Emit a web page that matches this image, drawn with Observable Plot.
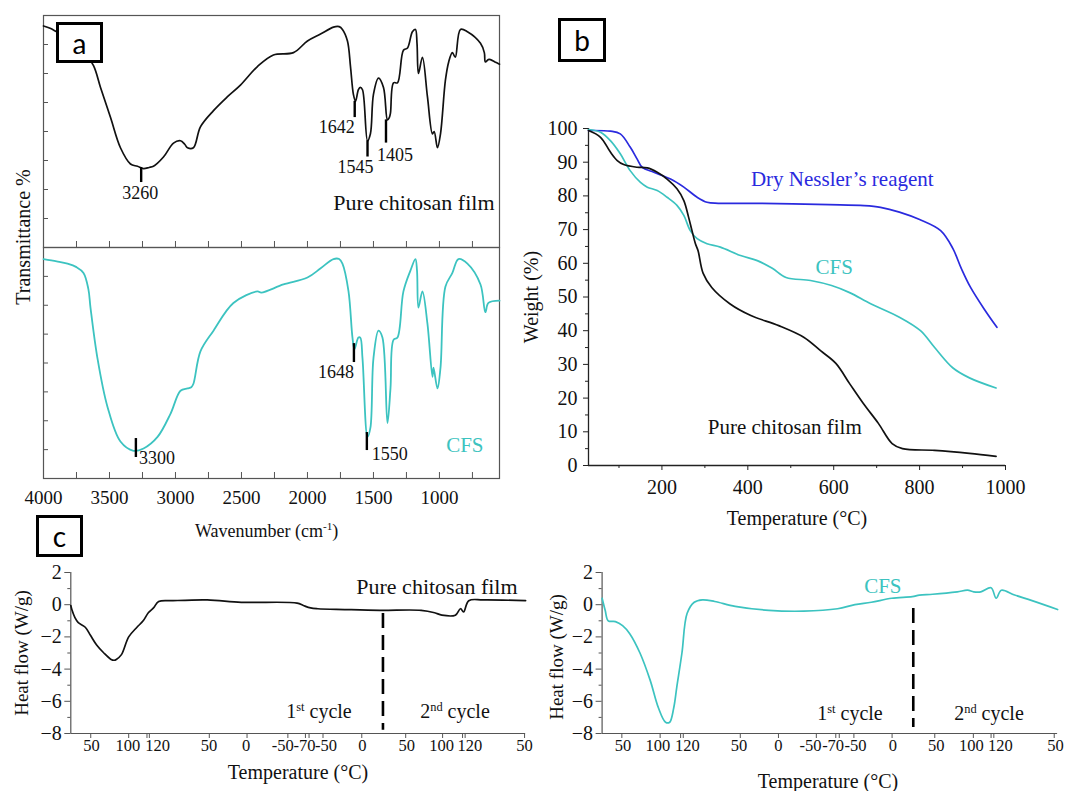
<!DOCTYPE html>
<html>
<head>
<meta charset="utf-8">
<script src="https://cdn.jsdelivr.net/npm/d3@7"></script>
<script src="https://cdn.jsdelivr.net/npm/@observablehq/plot@0.6"></script>
<style>
  body { margin: 0; background: #fff; }
  #fig { position: relative; width: 1065px; height: 791px; overflow: hidden; background: #fff;
         font-family: "Liberation Serif", "Times New Roman", serif; }
  #fig > svg { position: absolute; left: 0; top: 0; }
  .lbl { position: absolute; white-space: nowrap; line-height: 1; color: #111;
         font-family: "Liberation Serif", "Times New Roman", serif; }
  .lbl sup { font-size: 62%; position: relative; top: -0.6em; vertical-align: baseline; line-height: 0; }
  .box { position: absolute; box-sizing: border-box; border: 3px solid #000; background: #fff;
         display: flex; align-items: center; justify-content: center;
         font-family: Lato, "Liberation Sans", sans-serif; font-size: 28px; line-height: 1; color: #000; }
</style>
</head>
<body>
<div id="fig"></div>
<script>
// ---------------- colours / fonts ----------------
const INK = "#111", TEAL = "#3cc3c0", BLUE = "#2a2ade", AXIS = "#555";
const SERIF = "'Liberation Serif', 'Times New Roman', serif";

// ---------------- panel a : FTIR ----------------
const ftirWnDomain = [4000, 545];
const ftirWnTicks = [4000, 3500, 3000, 2500, 2000, 1500, 1000];
const ftirWnMinorTicks = [4000, 3750, 3500, 3250, 3000, 2750, 2500, 2250, 2000, 1750, 1500, 1250, 1000, 750];
const ftirTransTicks = [12.5, 25, 37.5, 50, 62.5, 75, 87.5, 100];
// [wavenumber (cm-1), transmittance (relative)]
const chitosanFTIR = [[4000,95.5],[3950,94.5],[3900,93],[3800,90],[3700,85],[3621,78.4],[3568,69],[3492,56],[3417,43],[3341,36],[3288,35],[3242,34],[3200,34.5],[3167,35],[3091,39],[3015,45],[2962,46],[2930,44.5],[2909,43],[2864,43],[2811,52],[2712,59],[2606,65],[2508,70],[2379,78],[2258,83],[2106,84],[2000,89],[1901,92],[1803,95],[1760,95.2],[1735,94],[1697,89],[1674,78],[1652,66],[1636,63],[1614,68],[1600,69],[1583,68],[1545,46],[1523,49],[1500,66],[1462,73],[1424,69],[1394,55],[1380,56],[1371,58],[1348,71],[1318,71],[1273,85],[1242,86],[1205,93],[1182,94],[1170,88],[1159,75],[1129,82],[1091,65],[1053,49],[1040,50],[1015,43],[992,49],[955,72],[930,80],[902,84],[880,82],[841,94],[788,93],[689,88],[660,84],[652,80],[630,81],[614,81],[580,80],[545,79]];
const cfsFTIR = [[4000,95],[3900,94],[3818,93],[3750,91.5],[3697,89],[3660,82],[3644,74],[3591,52],[3515,31],[3417,16],[3318,12],[3242,13],[3136,18],[3038,28],[2962,38],[2909,39],[2880,39.5],[2864,41],[2811,55],[2712,64],[2561,76],[2379,81],[2350,80.5],[2182,84],[2000,87],[1900,91],[1803,95],[1760,95],[1735,93],[1689,81],[1659,61],[1644,56],[1614,61],[1600,61],[1583,52],[1545,18],[1523,22],[1500,52],[1462,64],[1432,61],[1394,24],[1371,39],[1348,60],[1318,61],[1273,81],[1220,90],[1182,95],[1170,90],[1159,74],[1129,81],[1091,67],[1053,44],[1045,48],[1015,39],[992,48],[955,83],[902,89],[856,95],[788,93],[689,84],[652,72],[629,76],[545,77]];
const chitosanPeaks = [
  {wn: 3260, from: 34.5, to: 28, label: "3260"},
  {wn: 1642, from: 63, to: 56, label: "1642"},
  {wn: 1545, from: 46, to: 39, label: "1545"},
  {wn: 1405, from: 55, to: 45, label: "1405"}
];
const cfsPeaks = [
  {wn: 3300, from: 17.3, to: 9.1, label: "3300"},
  {wn: 1648, from: 58.4, to: 50.2, label: "1648"},
  {wn: 1550, from: 19.9, to: 12.1, label: "1550"}
];

// ---------------- panel b : TGA ----------------
const tgaTempDomain = [29, 1000];
const tgaTempTicks = [200, 400, 600, 800, 1000];
const tgaTempMinorTicks = [100, 300, 500, 700, 900];
const weightTicks = [0, 10, 20, 30, 40, 50, 60, 70, 80, 90, 100];
const weightMinorTicks = [5, 15, 25, 35, 45, 55, 65, 75, 85, 95];
// [temperature (°C), weight (%)]
const tgaNessler = [[29,99.4],[80,99.2],[103,98.4],[126,94.5],[142,91],[154,88.5],[181,87],[220,85],[251,82.6],[282,79.6],[305,78.1],[331,77.8],[424,77.8],[589,77.4],[671,77.1],[709,76.6],[753,75.2],[800,73],[849,69.7],[877,64.5],[897,58.5],[918,53],[951,46.3],[980,41]];
const tgaCFS = [[29,99.7],[57,98.9],[80,96.4],[103,92.5],[126,87.5],[150,84],[166,82.6],[189,81.6],[212,79.6],[235,77.2],[251,74.2],[266,69.7],[282,67.3],[305,65.8],[336,64.8],[383,62.3],[422,60.8],[457,58.5],[489,55.8],[546,54.9],[595,53.4],[637,51.3],[686,48],[753,44],[802,40],[835,35],[877,29],[916,26],[978,23]];
const tgaChitosan = [[29,99.4],[57,97.4],[80,93],[96,90.5],[111,89.3],[142,88.5],[166,88.3],[189,87],[212,85],[235,82.1],[251,78.6],[262,73.7],[270,69.7],[278,65.8],[284,63.8],[296,57],[316,52.8],[358,48],[407,44.5],[472,41.5],[531,38],[570,34],[605,30.3],[637,24.3],[669,18.4],[704,12.5],[736,6.5],[760,5],[835,4.5],[916,3.6],[978,2.7]];
const tgaLabels = [
  {series: "Dry Nessler’s reagent", T: 620, w: 84.9},
  {series: "CFS", T: 601, w: 58.8},
  {series: "Pure chitosan film", T: 486, w: 11.3}
];
const tgaColors = {"Dry Nessler’s reagent": BLUE, "CFS": TEAL, "Pure chitosan film": INK};

// ---------------- panel c : DSC ----------------
const dscTickLabels = ["50","100","120","50","0","-50","-70","-50","0","50","100","120","50"];
const dscLabelPosLeft  = [20, 55.3, 84, 133.6, 169.5, 205, 226, 247, 282, 325, 358.7, 386, 439];
const dscTickPosLeft   = [19.3, 56, 73.7, 76, 134, 170.5, 210, 227, 230.5, 244, 281.5, 324, 359.7, 379, 381.5, 439];
const dscLabelPosRight = [20.5, 54.5, 83.3, 133.8, 172.2, 203.7, 225.7, 247.6, 284, 326.4, 360.7, 389, 443];
const dscTickPosRight  = [19.3, 56.7, 76.7, 79.3, 135, 172.3, 209.3, 228.3, 231.7, 246, 283.3, 325, 362.7, 380, 382.7, 441.7];
const heatTicks = [2, 0, -2, -4, -6, -8];
const heatMinorTicks = [1, -1, -3, -5, -7];
// [run position, heat flow (W/g)]
const dscChitosan = [[0,-0.05],[1,-0.3],[4,-0.8],[7,-1.1],[14,-1.4],[19,-1.9],[25,-2.5],[32,-3.0],[39,-3.4],[42,-3.45],[44,-3.4],[49,-3.1],[56,-2.0],[64,-1.4],[70,-1.0],[75,-0.5],[80,-0.2],[85,0.2],[99,0.25],[132,0.3],[165,0.15],[219,0.1],[225,-0.05],[232,-0.2],[239,-0.25],[265,-0.3],[299,-0.35],[339,-0.35],[352,-0.5],[359,-0.65],[372,-0.65],[377,-0.25],[380,-0.45],[385,0.25],[399,0.3],[440,0.25]];
const dscCFS = [[0,0.4],[3,-0.35],[6,-1.0],[13,-1.05],[20,-1.3],[27,-1.8],[37,-3.0],[47,-4.7],[55,-6.4],[62,-7.3],[66,-7.3],[70,-6.4],[73,-5.1],[78,-3.0],[83,-0.55],[90,0.15],[98,0.3],[110,0.2],[130,-0.1],[163,-0.35],[197,-0.4],[230,-0.25],[247,0.0],[263,0.15],[283,0.4],[303,0.5],[310,0.6],[323,0.65],[347,0.8],[357,0.9],[363,0.8],[370,0.8],[380,1.05],[385,0.4],[390,0.9],[403,0.6],[420,0.25],[445,-0.3]];
const cycleSplitLeft = [{t: 302, top: -0.55, bottom: -7.8}];
const cycleSplitRight = [{t: 304, top: -0.24, bottom: -7.63}];

// ---------------- helpers ----------------
const fig = document.getElementById("fig");
const base = {width: 1065, height: 791,
  style: {background: "transparent", overflow: "visible", fontFamily: SERIF}};
function add(opts) { fig.appendChild(Plot.plot({...base, ...opts})); }
const blank = () => "";
const plain = d => String(d);
const minusFmt = d => d < 0 ? "\u2212" + Math.abs(d) : String(d);

function html(content, {cx, left, baseline, size, color = "#111"}) {
  const d = document.createElement("div");
  d.className = "lbl";
  d.innerHTML = content;
  d.style.fontSize = size + "px";
  d.style.color = color;
  d.style.top = (baseline - 0.8375 * size) + "px";
  if (cx !== undefined) { d.style.left = cx + "px"; d.style.transform = "translateX(-50%)"; }
  else d.style.left = left + "px";
  fig.appendChild(d);
}
function vlabel(content, {cx, cy, size}) {
  const d = document.createElement("div");
  d.className = "lbl";
  d.innerHTML = content;
  d.style.fontSize = size + "px";
  d.style.left = cx + "px"; d.style.top = cy + "px";
  d.style.transform = "translate(-50%,-50%) rotate(-90deg)";
  fig.appendChild(d);
}
function box(letter, l, t, w, h) {
  const d = document.createElement("div");
  d.className = "box"; d.textContent = letter;
  Object.assign(d.style, {left: l + "px", top: t + "px", width: w + "px", height: h + "px"});
  fig.appendChild(d);
}

// ---------------- panel a ----------------
const peakPlace = {
  "3260": {textAnchor: "middle", lineAnchor: "top", dx: -1, dy: 4},
  "1642": {textAnchor: "end", lineAnchor: "top", dx: 0, dy: 3},
  "1545": {textAnchor: "middle", lineAnchor: "top", dx: -12, dy: 3},
  "1405": {textAnchor: "middle", lineAnchor: "top", dx: 9, dy: 5},
  "3300": {textAnchor: "start", lineAnchor: "middle", dx: 3, dy: 1},
  "1648": {textAnchor: "end", lineAnchor: "top", dx: 0, dy: 3},
  "1550": {textAnchor: "start", lineAnchor: "middle", dx: 5, dy: 4}
};
const peakMarks = peaks => [
  Plot.ruleX(peaks, {x: "wn", y1: "from", y2: "to", stroke: "#000", strokeWidth: 2.4}),
  ...peaks.map(p => Plot.text([p], {x: "wn", y: "to", text: "label", fontSize: 18, fontFamily: SERIF, fill: INK, ...peakPlace[p.label]}))
];

add({
  marginLeft: 43, marginRight: 566, marginTop: 15, marginBottom: 544,
  x: {domain: ftirWnDomain, axis: null}, y: {domain: [0, 100], axis: null},
  marks: [
    Plot.frame({stroke: AXIS, strokeWidth: 1.2}),
    Plot.axisX(ftirWnMinorTicks, {anchor: "bottom", tickSize: -6, tickFormat: blank, stroke: AXIS, label: null}),
    Plot.axisY(ftirTransTicks, {anchor: "left", tickSize: -5, tickFormat: blank, stroke: AXIS, label: null}),
    Plot.line(chitosanFTIR, {x: d => d[0], y: d => d[1], stroke: INK, strokeWidth: 1.7, curve: "catmull-rom"}),
    ...peakMarks(chitosanPeaks),
    Plot.text(["Pure chitosan film"], {frameAnchor: "bottom-right", dx: -5, dy: -38, fontSize: 22, fontFamily: SERIF, fill: INK, textAnchor: "end"})
  ]
});

add({
  marginLeft: 43, marginRight: 566, marginTop: 247, marginBottom: 313,
  x: {domain: ftirWnDomain, axis: null}, y: {domain: [0, 100], axis: null},
  marks: [
    Plot.frame({stroke: AXIS, strokeWidth: 1.2}),
    Plot.axisX(ftirWnMinorTicks, {anchor: "bottom", tickSize: -6, tickFormat: blank, stroke: AXIS, label: null}),
    Plot.axisX(ftirWnTicks, {anchor: "bottom", tickSize: 0, tickPadding: 12, fontSize: 19, fontFamily: SERIF, fill: INK, tickFormat: plain, label: null}),
    Plot.axisY(ftirTransTicks, {anchor: "left", tickSize: -5, tickFormat: blank, stroke: AXIS, label: null}),
    Plot.line(cfsFTIR, {x: d => d[0], y: d => d[1], stroke: TEAL, strokeWidth: 1.8, curve: "catmull-rom"}),
    ...peakMarks(cfsPeaks),
    Plot.text(["CFS"], {frameAnchor: "bottom-right", dx: -16, dy: -27, fontSize: 21, fontFamily: SERIF, fill: TEAL, textAnchor: "end"})
  ]
});

// ---------------- panel b ----------------
add({
  marginLeft: 588, marginRight: 60, marginTop: 128, marginBottom: 326,
  x: {domain: tgaTempDomain, axis: null}, y: {domain: [0, 100], axis: null},
  marks: [
    Plot.ruleY([0], {stroke: "#222", strokeWidth: 1.3}),
    Plot.ruleX([tgaTempDomain[0]], {stroke: "#222", strokeWidth: 1.3}),
    Plot.axisX(tgaTempTicks, {anchor: "bottom", tickSize: 5, tickPadding: 9, fontSize: 20, fontFamily: SERIF, fill: INK, stroke: "#222", tickFormat: plain, label: null}),
    Plot.axisX(tgaTempMinorTicks, {anchor: "bottom", tickSize: 3, tickFormat: blank, stroke: "#222", label: null}),
    Plot.axisY(weightTicks, {anchor: "left", tickSize: 5, tickPadding: 6, fontSize: 20, fontFamily: SERIF, fill: INK, stroke: "#222", tickFormat: plain, label: null}),
    Plot.axisY(weightMinorTicks, {anchor: "left", tickSize: 3, tickFormat: blank, stroke: "#222", label: null}),
    Plot.line(tgaNessler, {x: d => d[0], y: d => d[1], stroke: BLUE, strokeWidth: 1.7, curve: "catmull-rom"}),
    Plot.line(tgaCFS, {x: d => d[0], y: d => d[1], stroke: TEAL, strokeWidth: 1.7, curve: "catmull-rom"}),
    Plot.line(tgaChitosan, {x: d => d[0], y: d => d[1], stroke: INK, strokeWidth: 1.7, curve: "catmull-rom"}),
    Plot.text(tgaLabels, {x: "T", y: "w", text: "series", fill: d => tgaColors[d.series], fontSize: 21, fontFamily: SERIF})
  ]
});

// ---------------- panel c ----------------
function dscPanel({left, right, domain, labelPos, tickPos, data, color, split, nameText, nameColor, nameOpts}) {
  const labelOf = new Map(labelPos.map((t, i) => [t, dscTickLabels[i]]));
  add({
    marginLeft: left, marginRight: 1065 - right, marginTop: 572, marginBottom: 58,
    x: {domain, axis: null}, y: {domain: [-8, 2], axis: null},
    marks: [
      Plot.ruleY([-8], {stroke: AXIS, strokeWidth: 1.2}),
      Plot.ruleX([domain[0]], {stroke: AXIS, strokeWidth: 1.2}),
      Plot.axisX(tickPos, {anchor: "bottom", tickSize: 5, tickFormat: blank, stroke: AXIS, label: null}),
      Plot.axisX(labelPos, {anchor: "bottom", tickSize: 0, tickPadding: 6, fontSize: 16.5, fontFamily: SERIF, fill: INK,
                            tickFormat: d => labelOf.get(d), label: null}),
      Plot.axisY(heatTicks, {anchor: "left", tickSize: 6, tickPadding: 3, fontSize: 20, fontFamily: SERIF, fill: INK, stroke: AXIS,
                             tickFormat: minusFmt, label: null}),
      Plot.axisY(heatMinorTicks, {anchor: "left", tickSize: 3, tickFormat: blank, stroke: AXIS, label: null}),
      Plot.line(data, {x: d => d[0], y: d => d[1], stroke: color, strokeWidth: 1.7, curve: "catmull-rom"}),
      Plot.ruleX(split, {x: "t", y1: "top", y2: "bottom", stroke: "#000", strokeWidth: 2.6, strokeDasharray: "15,7"}),
      Plot.text([nameText], {fill: nameColor, fontFamily: SERIF, ...nameOpts})
    ]
  });
}
dscPanel({left: 70.3, right: 525.1, domain: [0, 440], labelPos: dscLabelPosLeft, tickPos: dscTickPosLeft,
  data: dscChitosan, color: INK, split: cycleSplitLeft, nameText: "Pure chitosan film", nameColor: INK,
  nameOpts: {frameAnchor: "top-right", dx: -8, dy: 6, fontSize: 22, textAnchor: "end"}});
dscPanel({left: 601.6, right: 1057.1, domain: [0, 445], labelPos: dscLabelPosRight, tickPos: dscTickPosRight,
  data: dscCFS, color: TEAL, split: cycleSplitRight, nameText: "CFS", nameColor: TEAL,
  nameOpts: {frameAnchor: "top", dx: 53, dy: 6, fontSize: 21}});

// ---------------- html labels ----------------
vlabel("Transmittance %", {cx: 23, cy: 237, size: 20});
html("Wavenumber (cm<sup>-1</sup>)", {left: 195, baseline: 537, size: 18});
vlabel("Weight (%)", {cx: 531, cy: 297, size: 20});
html("Temperature (°C)", {cx: 797, baseline: 525, size: 20});
vlabel("Heat flow (W/g)", {cx: 21, cy: 653, size: 19});
vlabel("Heat flow (W/g)", {cx: 556, cy: 657, size: 19});
html("Temperature (°C)", {cx: 298, baseline: 779, size: 20});
html("Temperature (°C)", {cx: 828, baseline: 788, size: 20});
html("1<sup>st</sup> cycle", {cx: 319, baseline: 718, size: 20});
html("2<sup>nd</sup> cycle", {cx: 455, baseline: 718, size: 20});
html("1<sup>st</sup> cycle", {cx: 850, baseline: 720, size: 20});
html("2<sup>nd</sup> cycle", {cx: 989, baseline: 720, size: 20});

box("a", 56, 22, 47, 41);
box("b", 558, 18, 48, 44);
box("c", 36, 515, 47, 42);
</script>
</body>
</html>
